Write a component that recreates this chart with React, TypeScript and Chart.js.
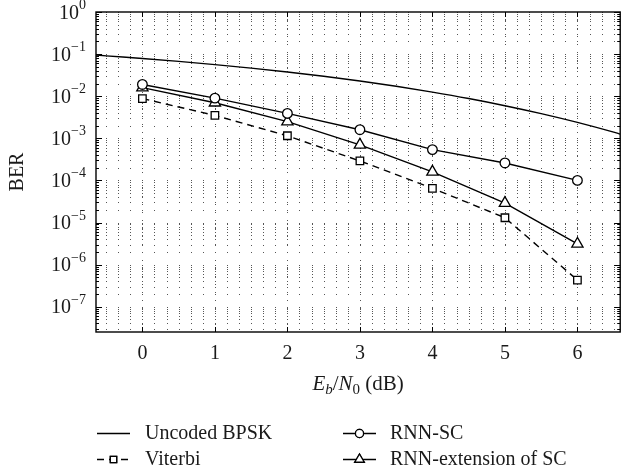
import React, { useEffect, useRef } from "react";
import { Chart, registerables } from "chart.js";
import { drawPoint } from "chart.js/helpers";
Chart.register(...registerables);

// ---- data ----
const snrDb = [0, 1, 2, 3, 4, 5, 6];
const rnnScBer = [1.9e-2, 9.0e-3, 3.9e-3, 1.6e-3, 5.4e-4, 2.6e-4, 1.0e-4];
const rnnExtBer = [1.6e-2, 7.0e-3, 2.5e-3, 7.0e-4, 1.6e-4, 2.9e-5, 3.1e-6];
const viterbiBer = [8.8e-3, 3.5e-3, 1.15e-3, 2.9e-4, 6.5e-5, 1.3e-5, 4.3e-7];
const uncodedDb = [-0.64, -0.5, 0, 0.5, 1, 1.5, 2, 2.5, 3, 3.5, 4, 4.5, 5, 5.5, 6, 6.5, 6.59];
const uncodedBer = [
  0.095, 0.091, 0.0786, 0.0671, 0.0563, 0.0464, 0.0375, 0.0297, 0.0229, 0.0172,
  0.0125, 0.0088, 0.00595, 0.00386, 0.00239, 0.0014, 0.00126,
];
const xTickValues = [0, 1, 2, 3, 4, 5, 6];
const yDecadeExponents = [0, -1, -2, -3, -4, -5, -6, -7];
const seriesLabels = ["Uncoded BPSK", "RNN-SC", "Viterbi", "RNN-extension of SC"];
const xTitle = "Eb/N0 (dB)";
const yTitle = "BER";

const X_MIN = -0.64;
const X_MAX = 6.59;
const Y_MIN = Math.pow(10, -7.6);
const Y_MAX = 1;

const SERIF = '"Liberation Serif", "DejaVu Serif", serif';

const pts = (xs: number[], ys: number[]) => xs.map((x, i) => ({ x, y: ys[i] }));

const decoratePlugin = {
  id: "decorate",
  beforeDatasetsDraw(chart: any) {
    const { ctx, chartArea: a, scales } = chart;
    const xs = scales.x;
    const ys = scales.y;
    ctx.save();
    ctx.beginPath();
    ctx.rect(a.left, a.top, a.right - a.left, a.bottom - a.top);
    ctx.clip();
    ctx.fillStyle = "#555";
    const cols: number[] = [];
    for (let k = Math.ceil(X_MIN * 6); k <= Math.floor(X_MAX * 6); k++) {
      cols.push(Math.round(xs.getPixelForValue(k / 6)));
    }
    for (let d = -8; d <= 0; d++) {
      for (let m = 1; m <= 9; m++) {
        const v = m * Math.pow(10, d);
        if (v < Y_MIN || v > Y_MAX) continue;
        const py = Math.round(ys.getPixelForValue(v));
        for (const px of cols) ctx.fillRect(px, py, 1, 1);
      }
    }
    ctx.strokeStyle = "#555";
    ctx.lineWidth = 1;
    ctx.setLineDash([1, 7]);
    for (const v of xTickValues) {
      const px = Math.round(xs.getPixelForValue(v)) + 0.5;
      ctx.beginPath();
      ctx.moveTo(px, a.top);
      ctx.lineTo(px, a.bottom);
      ctx.stroke();
    }
    ctx.restore();
  },
  afterDatasetsDraw(chart: any) {
    const { ctx, chartArea: a, scales } = chart;
    const xs = scales.x;
    const ys = scales.y;
    ctx.save();
    ctx.setLineDash([]);
    ctx.strokeStyle = "#000";
    ctx.lineWidth = 1;
    for (let d = -8; d <= 0; d++) {
      for (let m = 1; m <= 9; m++) {
        const v = m * Math.pow(10, d);
        if (v < Y_MIN || v > Y_MAX) continue;
        const py = Math.round(ys.getPixelForValue(v)) + 0.5;
        const len = m === 1 ? 6 : 3;
        ctx.beginPath();
        ctx.moveTo(a.left, py);
        ctx.lineTo(a.left + len, py);
        ctx.moveTo(a.right, py);
        ctx.lineTo(a.right - len, py);
        ctx.stroke();
      }
    }
    for (const v of xTickValues) {
      const px = Math.round(xs.getPixelForValue(v)) + 0.5;
      ctx.beginPath();
      ctx.moveTo(px, a.bottom);
      ctx.lineTo(px, a.bottom - 5);
      ctx.moveTo(px, a.top);
      ctx.lineTo(px, a.top + 5);
      ctx.stroke();
    }
    ctx.lineWidth = 1.4;
    ctx.strokeRect(a.left, a.top, a.right - a.left, a.bottom - a.top);
    ctx.restore();
  },
  afterDraw(chart: any) {
    const { ctx, chartArea: a, scales } = chart;
    const xs = scales.x;
    const ys = scales.y;
    ctx.save();
    ctx.fillStyle = "#1a1a1a";
    for (const e of yDecadeExponents) {
      const py = ys.getPixelForValue(Math.pow(10, e));
      const expStr = e === 0 ? "0" : "\u2212" + String(-e);
      ctx.font = "20px " + SERIF;
      const w10 = ctx.measureText("10").width;
      ctx.font = "14px " + SERIF;
      const wE = ctx.measureText(expStr).width;
      const right = 86;
      const x0 = right - w10 - wE;
      ctx.textAlign = "left";
      ctx.textBaseline = "alphabetic";
      ctx.font = "20px " + SERIF;
      ctx.fillText("10", x0, py + 6.5);
      ctx.font = "14px " + SERIF;
      ctx.fillText(expStr, x0 + w10, py - 3);
    }
    ctx.font = "20px " + SERIF;
    ctx.textAlign = "center";
    ctx.textBaseline = "alphabetic";
    for (const v of xTickValues) {
      ctx.fillText(String(v), xs.getPixelForValue(v), 359);
    }
    {
      const parts: { t: string; font: string; dy: number }[] = [
        { t: xTitle.slice(0, 1), font: "italic 21px " + SERIF, dy: 0 },
        { t: xTitle.slice(1, 2), font: "italic 15px " + SERIF, dy: 4 },
        { t: xTitle.slice(2, 3), font: "21px " + SERIF, dy: 0 },
        { t: xTitle.slice(3, 4), font: "italic 21px " + SERIF, dy: 0 },
        { t: xTitle.slice(4, 5), font: "15px " + SERIF, dy: 4 },
        { t: xTitle.slice(5), font: "21px " + SERIF, dy: 0 },
      ];
      let total = 0;
      const widths = parts.map((p) => {
        ctx.font = p.font;
        const w = ctx.measureText(p.t).width;
        total += w;
        return w;
      });
      let x = (a.left + a.right) / 2 - total / 2;
      ctx.textAlign = "left";
      parts.forEach((p, i) => {
        ctx.font = p.font;
        ctx.fillText(p.t, x, 390 + p.dy);
        x += widths[i];
      });
    }
    ctx.save();
    ctx.translate(23, (a.top + a.bottom) / 2);
    ctx.rotate(-Math.PI / 2);
    ctx.font = "20px " + SERIF;
    ctx.textAlign = "center";
    ctx.textBaseline = "alphabetic";
    ctx.fillText(yTitle, 0, 0);
    ctx.restore();

    const slots = [
      { ds: 0, lx: 97, tx: 145, y: 433 },
      { ds: 2, lx: 97, tx: 145, y: 459 },
      { ds: 1, lx: 343, tx: 390, y: 433 },
      { ds: 3, lx: 343, tx: 390, y: 459 },
    ];
    for (const s of slots) {
      const ds: any = chart.data.datasets[s.ds];
      ctx.save();
      ctx.strokeStyle = "#000";
      ctx.lineWidth = 1.4;
      ctx.setLineDash(ds.borderDash || []);
      ctx.beginPath();
      ctx.moveTo(s.lx, s.y + 0.5);
      ctx.lineTo(s.lx + 33, s.y + 0.5);
      ctx.stroke();
      ctx.setLineDash([]);
      if (ds.pointRadius > 0) {
        ctx.fillStyle = "#fff";
        ctx.lineWidth = ds.pointBorderWidth;
        drawPoint(
          ctx,
          {
            pointStyle: ds.pointStyle,
            radius: ds.pointRadius * 0.85,
            rotation: 0,
            borderWidth: ds.pointBorderWidth,
          } as any,
          s.lx + 16.5,
          s.y + 0.5
        );
        ctx.fill();
        ctx.stroke();
      }
      ctx.restore();
      ctx.fillStyle = "#1a1a1a";
      ctx.font = "20px " + SERIF;
      ctx.textAlign = "left";
      ctx.textBaseline = "middle";
      ctx.fillText(seriesLabels[s.ds], s.tx, s.y + 1);
    }
    ctx.restore();
  },
};

export default function App() {
  const ref = useRef<HTMLCanvasElement>(null);
  useEffect(() => {
    document.body.style.margin = "0";
    const common = {
      borderColor: "#000",
      backgroundColor: "#fff",
      pointBorderColor: "#000",
      pointBackgroundColor: "#fff",
      borderWidth: 1.4,
      pointBorderWidth: 1.3,
      tension: 0,
    };
    const chart = new Chart(ref.current as HTMLCanvasElement, {
      type: "line",
      data: {
        datasets: [
          {
            ...common,
            label: seriesLabels[0],
            data: pts(uncodedDb, uncodedBer),
            pointRadius: 0,
            cubicInterpolationMode: "monotone",
          } as any,
          {
            ...common,
            label: seriesLabels[1],
            data: pts(snrDb, rnnScBer),
            pointStyle: "circle",
            pointRadius: 4.8,
          },
          {
            ...common,
            label: seriesLabels[2],
            data: pts(snrDb, viterbiBer),
            pointStyle: "rect",
            pointRadius: 5.3,
            borderDash: [7, 5],
          },
          {
            ...common,
            label: seriesLabels[3],
            data: pts(snrDb, rnnExtBer),
            pointStyle: "triangle",
            pointRadius: 6.5,
          },
        ],
      },
      options: {
        responsive: false,
        animation: false,
        devicePixelRatio: 1,
        layout: { padding: { left: 96, top: 12, right: 4, bottom: 141 } },
        plugins: { legend: { display: false }, tooltip: { enabled: false } },
        scales: {
          x: { type: "linear", display: false, min: X_MIN, max: X_MAX },
          y: { type: "logarithmic", display: false, min: Y_MIN, max: Y_MAX },
        },
      },
      plugins: [decoratePlugin],
    });
    return () => chart.destroy();
  }, []);
  return (
    <div style={{ position: "absolute", left: 0, top: 0, width: 628, height: 473, background: "#fff" }}>
      <canvas ref={ref} width={628} height={473} style={{ display: "block", width: 628, height: 473 }} />
    </div>
  );
}
